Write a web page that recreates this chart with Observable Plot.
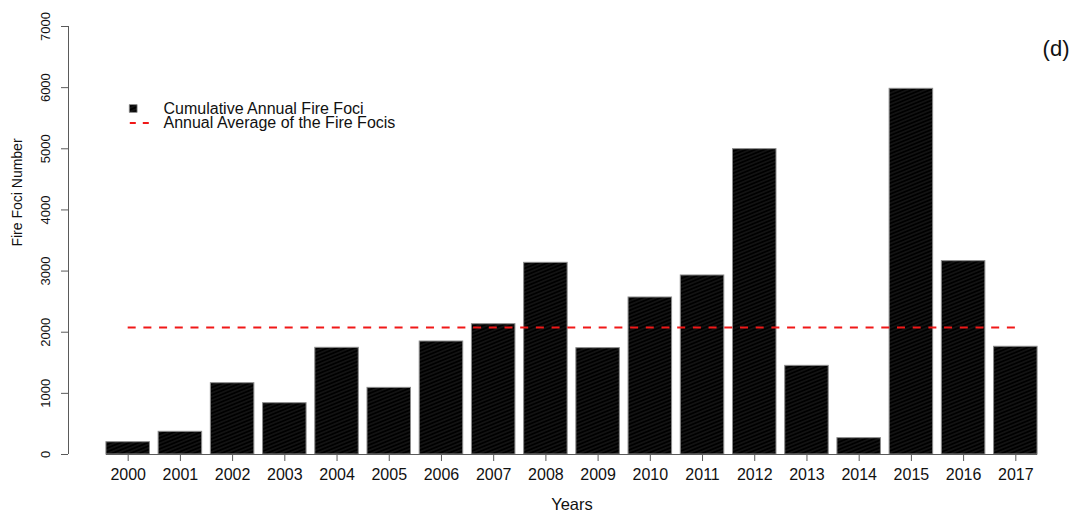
<!DOCTYPE html>
<html>
<head>
<meta charset="utf-8">
<script src="https://cdn.jsdelivr.net/npm/d3@7"></script>
<script src="https://cdn.jsdelivr.net/npm/@observablehq/plot@0.6"></script>
<style>
  html, body { margin: 0; padding: 0; background: #fff; }
  #chart svg { display: block; }
</style>
</head>
<body>
<div id="chart"></div>
<script>
// Annual fire foci counts, 2000–2017
const years = [2000, 2001, 2002, 2003, 2004, 2005, 2006, 2007, 2008,
               2009, 2010, 2011, 2012, 2013, 2014, 2015, 2016, 2017];
const foci  = [201, 371, 1166, 839, 1745, 1090, 1848, 2131, 3135,
               1739, 2568, 2928, 4994, 1450, 267, 5981, 3162, 1762];
const yTicks = [0, 1000, 2000, 3000, 4000, 5000, 6000, 7000];
const legendLabels = ["Cumulative Annual Fire Foci", "Annual Average of the Fire Focis"];
const panelTag = "(d)";

const rows = years.map((year, i) => ({year, count: foci[i]}));
const average = d3.mean(foci);

// bar layout in year units (bar width 1, gap 0.2 between bars)
const halfW = 0.5 / 1.2;
const xPad = 1.143;
const xLo = years[0] - xPad, xHi = years[years.length - 1] + xPad;

// two short red dashes for the legend key
const dashKey = {
  draw(ctx) {
    ctx.moveTo(-10, 0); ctx.lineTo(-4, 0);
    ctx.moveTo(3, 0); ctx.lineTo(9, 0);
  }
};

const axisColor = "#5a5a5a";
const textColor = "#111";

const chart = Plot.plot({
  width: 1078,
  height: 515,
  marginLeft: 68,
  marginRight: 3,
  marginTop: 26,
  marginBottom: 61,
  style: {fontFamily: "'Liberation Sans', Arial, sans-serif", color: textColor, background: "#fff"},
  x: {type: "linear", domain: [xLo, xHi]},
  y: {domain: [0, 7000]},
  marks: [
    // bars
    Plot.rectY(rows, {
      x1: d => d.year - halfW,
      x2: d => d.year + halfW,
      y: "count",
      fill: "url(#hatch)",
      stroke: "#8c8c8c",
      strokeWidth: 1
    }),
    // axis lines
    Plot.ruleY([0], {x1: years[0] - halfW, x2: years[years.length - 1] + halfW, stroke: axisColor, strokeWidth: 1}),
    Plot.ruleX([xLo], {y1: yTicks[0], y2: yTicks[yTicks.length - 1], stroke: axisColor, strokeWidth: 1}),
    Plot.axisX({
      ticks: years, tickFormat: d => String(d), tickSize: 7, tickPadding: 7,
      fontSize: 16, label: null, stroke: axisColor
    }),
    // y tick marks; their labels are drawn upright-rotated below
    Plot.axisY({
      ticks: yTicks, tickFormat: () => "", tickSize: 7, label: null, stroke: axisColor
    }),
    Plot.text(yTicks, {
      x: xLo, y: d => d, text: d => String(d), rotate: -90,
      dx: -22.5, textAnchor: "middle", lineAnchor: "middle", fontSize: 13, fill: textColor
    }),
    // annual average line
    Plot.ruleY([average], {
      x1: years[0], x2: years[years.length - 1],
      stroke: "#f01818", strokeWidth: 2, strokeDasharray: "8,7.7"
    }),
    // axis titles
    Plot.text(["Years"], {frameAnchor: "bottom", dy: 50, lineAnchor: "middle", textAnchor: "middle", fontSize: 16.5, fill: textColor}),
    Plot.text(["Fire Foci Number"], {frameAnchor: "left", rotate: -90, dx: -51, dy: -48, textAnchor: "middle", lineAnchor: "middle", fontSize: 14, fill: textColor}),
    // panel tag
    Plot.text([panelTag], {frameAnchor: "top-right", textAnchor: "end", lineAnchor: "middle", dx: -6, dy: 22.5, fontSize: 22, fill: textColor}),
    // legend
    Plot.dot([0], {frameAnchor: "top-left", dx: 64.7, dy: 82, symbol: "square", r: 4.4, fill: "url(#hatch)", stroke: "#8c8c8c", strokeWidth: 0.8}),
    Plot.dot([0], {frameAnchor: "top-left", dx: 71.3, dy: 96.5, symbol: dashKey, r: 5, fill: "none", stroke: "#f01818", strokeWidth: 2}),
    Plot.text([legendLabels[0]], {frameAnchor: "top-left", dx: 95, dy: 82, textAnchor: "start", lineAnchor: "middle", fontSize: 16, fill: textColor}),
    Plot.text([legendLabels[1]], {frameAnchor: "top-left", dx: 95, dy: 96.5, textAnchor: "start", lineAnchor: "middle", fontSize: 16, fill: textColor})
  ]
});

// faint diagonal shading lines inside the black bars
const defs = d3.select(chart).insert("defs", ":first-child");
const pat = defs.append("pattern")
  .attr("id", "hatch")
  .attr("patternUnits", "userSpaceOnUse")
  .attr("width", 10)
  .attr("height", 3.4)
  .attr("patternTransform", "rotate(-22)");
pat.append("rect").attr("width", 10).attr("height", 3.4).attr("fill", "#000");
pat.append("line")
  .attr("x1", 0).attr("y1", 1.7).attr("x2", 10).attr("y2", 1.7)
  .attr("stroke", "#2b2b2b").attr("stroke-width", 0.8);

document.getElementById("chart").append(chart);
</script>
</body>
</html>
